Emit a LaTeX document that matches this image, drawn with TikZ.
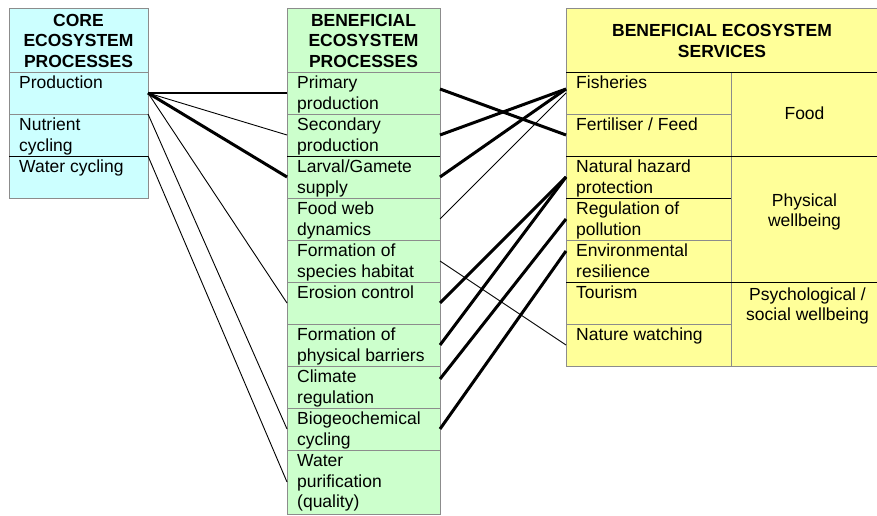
\documentclass[tikz,border=0pt]{standalone}
\usepackage{fontspec}
\setmainfont{Liberation Sans}
\definecolor{corecol}{HTML}{CCFFFF}
\definecolor{benecol}{HTML}{CCFFCC}
\definecolor{servcol}{HTML}{FFFF99}
\definecolor{framecol}{HTML}{8C8C8C}
\newcommand{\cellfont}{\fontsize{17.5}{20.5}\selectfont}
\newcommand{\cellstrut}{\rule{0pt}{14pt}}

\begin{document}
\begin{tikzpicture}[x=1pt,y=-1pt]
\tikzstyle{every node}=[font=\cellfont]
\tikzstyle{box}=[draw=framecol, line width=0.9pt, rectangle, anchor=north west, inner sep=0pt, outer sep=0pt]
\tikzstyle{head}=[box, align=center, font=\cellfont\bfseries]
\tikzstyle{cell}=[anchor=north west, inner sep=0pt, align=left]
\tikzstyle{grouptxt}=[anchor=north, inner sep=0pt, align=center]
\tikzstyle{thinlink}=[line width=0.9pt]
\tikzstyle{midlink}=[line width=1.5pt]
\tikzstyle{thicklink}=[line width=3pt]

\useasboundingbox (0,0) rectangle (877,516);

% column headers
\node[head, fill=corecol, minimum width=139pt, minimum height=64pt] (corehead) at (9,8) {\cellstrut CORE\\ECOSYSTEM\\PROCESSES};
\node[head, fill=benecol, minimum width=153pt, minimum height=64pt] (benehead) at (287,8) {\cellstrut BENEFICIAL\\ECOSYSTEM\\PROCESSES};
\node[head, fill=servcol, minimum width=312pt, minimum height=64pt] (servhead) at (566,8) {\cellstrut BENEFICIAL ECOSYSTEM\\SERVICES};

% core ecosystem processes
\foreach \n/\t [count=\i from 0] in {prod/Production, nutr/{Nutrient\\cycling}, wcyc/{Water cycling}}
{
	\node[box, fill=corecol, minimum width=139pt, minimum height=42pt] (\n) at (9,72+42*\i) {};
	\node[cell] (\n-t) at ([shift={(10,2.5)}]\n.north west) {\cellstrut\t};
}

% beneficial ecosystem processes
\foreach \n/\h/\t [count=\i from 0] in {prim/42/{Primary\\production}, sec/42/{Secondary\\production}, larv/42/{Larval/Gamete\\supply}, fweb/42/{Food web\\dynamics}, hab/42/{Formation of\\species habitat}, eros/42/{Erosion control}, barr/42/{Formation of\\physical barriers}, clim/42/{Climate\\regulation}, bio/42/{Biogeochemical\\cycling}, wpur/64/{Water\\purification\\(quality)}}
{
	\node[box, fill=benecol, minimum width=153pt, minimum height=\h] (\n) at (287,72+42*\i) {};
	\node[cell] (\n-t) at ([shift={(10,2.5)}]\n.north west) {\cellstrut\t};
}

% beneficial ecosystem services
\foreach \n/\t [count=\i from 0] in {fish/Fisheries, fert/{Fertiliser / Feed}, haz/{Natural hazard\\protection}, reg/{Regulation of\\pollution}, env/{Environmental\\resilience}, tour/Tourism, watch/{Nature watching}}
{
	\node[box, fill=servcol, minimum width=165pt, minimum height=42pt] (\n) at (566,72+42*\i) {};
	\node[cell] (\n-t) at ([shift={(10,2.5)}]\n.north west) {\cellstrut\t};
}
\node[box, fill=servcol, minimum width=147pt, minimum height=84pt] (food) at (731,72) {};
\node[box, fill=servcol, minimum width=147pt, minimum height=126pt] (phys) at (731,156) {};
\node[box, fill=servcol, minimum width=147pt, minimum height=84pt] (psych) at (731,282) {};
\node[grouptxt] (food-t) at ([yshift=-33.5pt]food.north) {\cellstrut Food};
\node[grouptxt] (phys-t) at ([yshift=-36pt]phys.north) {\cellstrut Physical\\wellbeing};
\node[grouptxt] (psych-t) at ([shift={(3,4)}]psych.north) {\cellstrut Psychological /\\social wellbeing};

% darker row separators
\draw[line width=0.9pt] (nutr.south west) -- (nutr.south east);
\draw[line width=0.9pt] (sec.south west) -- (sec.south east);
\draw[line width=0.9pt] (servhead.south west) -- (servhead.south east);
\draw[line width=0.9pt] (fert.south west) -- (food.south east);
\draw[line width=0.9pt] (haz.south west) -- (haz.south east);
\draw[line width=0.9pt] (env.south west) -- (phys.south east);

% core processes to beneficial processes
\draw[midlink] (prod.east) -- (prim.west);
\draw[thinlink] (prod.east) -- (sec.west);
\draw[thicklink] (prod.east) -- (larv.west);
\draw[thinlink] (prod.east) -- (eros.west);
\draw[thinlink] (nutr.north east) -- (bio.west);
\draw[thinlink] (wcyc.north east) -- (wpur.west);

% beneficial processes to services
\draw[thicklink] ([yshift=4pt]prim.east) -- (fert.west);
\draw[thicklink] (sec.east) -- ([yshift=4pt]fish.west);
\draw[thicklink] (larv.east) -- ([yshift=4pt]fish.west);
\draw[thinlink] (fweb.east) -- (fish.west);
\draw[thinlink] (hab.east) -- (watch.west);
\draw[thicklink] (eros.east) -- (haz.west);
\draw[thicklink] (barr.east) -- (haz.west);
\draw[thicklink] ([yshift=8pt]clim.east) -- (reg.west);
\draw[thicklink] (bio.east) -- ([yshift=10pt]env.west);

\end{tikzpicture}
\end{document}
